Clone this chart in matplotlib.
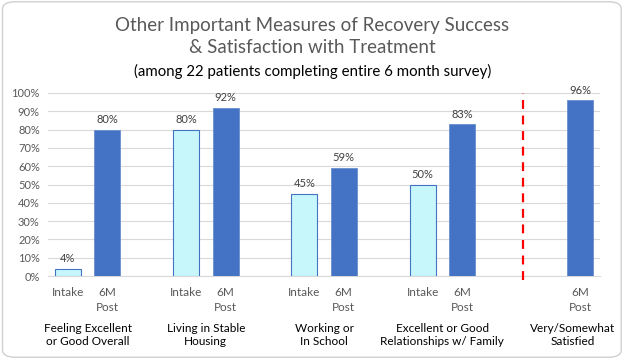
import matplotlib
matplotlib.use('Agg')
import matplotlib.pyplot as plt
from matplotlib.patches import FancyBboxPatch
import numpy as np

plt.rcParams['font.family'] = ['Lato', 'DejaVu Sans']

# slot layout: Intake, 6M Post, gap ... (14 slots in total)
slot_labels = ['Intake', '6M\nPost', '', 'Intake', '6M\nPost', '', 'Intake', '6M\nPost', '',
               'Intake', '6M\nPost', '', '', '6M\nPost']
groups = ['Feeling Excellent\nor Good Overall', 'Living in Stable\nHousing',
          'Working or\nIn School', 'Excellent or Good\nRelationships w/ Family',
          'Very/Somewhat\nSatisfied']
intake = [4, 80, 45, 50]
post6m = [80, 92, 59, 83, 96]

intake_pos = [0, 3, 6, 9]
post_pos = [1, 4, 7, 10, 13]

fig = plt.figure(figsize=(6.25, 3.59), dpi=100)
ax = fig.add_axes([0.077, 0.231, 0.883, 0.51])

bw = 0.66
ax.bar(intake_pos, np.array(intake) / 100, width=bw, color='#C7F7FB', edgecolor='#4472C4', linewidth=0.8, zorder=3)
ax.bar(post_pos, np.array(post6m) / 100, width=bw, color='#4472C4', edgecolor='#6A8FD0', linewidth=0.6, zorder=3)

for x, v in zip(intake_pos, intake):
    ax.text(x, v / 100 + 0.025, f'{v}%', ha='center', va='bottom', fontsize=8, color='#404040')
for x, v in zip(post_pos, post6m):
    ax.text(x, v / 100 + 0.025, f'{v}%', ha='center', va='bottom', fontsize=8, color='#404040')

ax.set_xlim(-0.5, 13.5)
ax.set_ylim(0, 1)
ax.set_yticks(np.arange(0, 1.01, 0.1))
ax.set_yticklabels([f'{int(round(t * 100))}%' for t in np.arange(0, 1.01, 0.1)])
ax.set_xticks(range(14))
ax.set_xticklabels(slot_labels, linespacing=1.4)
ax.tick_params(axis='x', length=0, pad=8, labelsize=8.5, labelcolor='#595959')
ax.tick_params(axis='y', length=0, pad=6, labelsize=8, labelcolor='#595959')
for lab in ax.get_xticklabels():
    lab.set_verticalalignment('top')

ax.grid(axis='y', color='#D9D9D9', linewidth=0.8, zorder=0)
for s in ['top', 'right', 'left']:
    ax.spines[s].set_visible(False)
ax.spines['bottom'].set_color('#D9D9D9')

# divider before satisfaction bar
ax.plot([11.55, 11.55], [-0.02, 1.0], color='red', linestyle=(0, (4, 3)), linewidth=1.6,
        clip_on=False, zorder=4)

group_centers = [0.5, 3.5, 6.5, 9.5, 12.8]
for c, g in zip(group_centers, groups):
    ax.text(c, -0.255, g, ha='center', va='top', fontsize=8.5, color='#000000',
            linespacing=1.25, transform=ax.get_xaxis_transform())

fig.text(0.5, 0.930, 'Other Important Measures of Recovery Success', ha='center', va='center',
         fontsize=13.5, color='#595959')
fig.text(0.5, 0.869, '& Satisfaction with Treatment', ha='center', va='center',
         fontsize=13.5, color='#595959')
fig.text(0.5, 0.802, '(among 22 patients completing entire 6 month survey)', ha='center', va='center',
         fontsize=10.8, color='#000000')

border = FancyBboxPatch((0.004, 0.005), 0.99, 0.99, boxstyle='round,pad=0,rounding_size=0.02',
                        transform=fig.transFigure, facecolor='none', edgecolor='#D0D0D0', linewidth=1)
fig.patches.append(border)

fig.savefig('out.png', dpi=100, facecolor='white')
